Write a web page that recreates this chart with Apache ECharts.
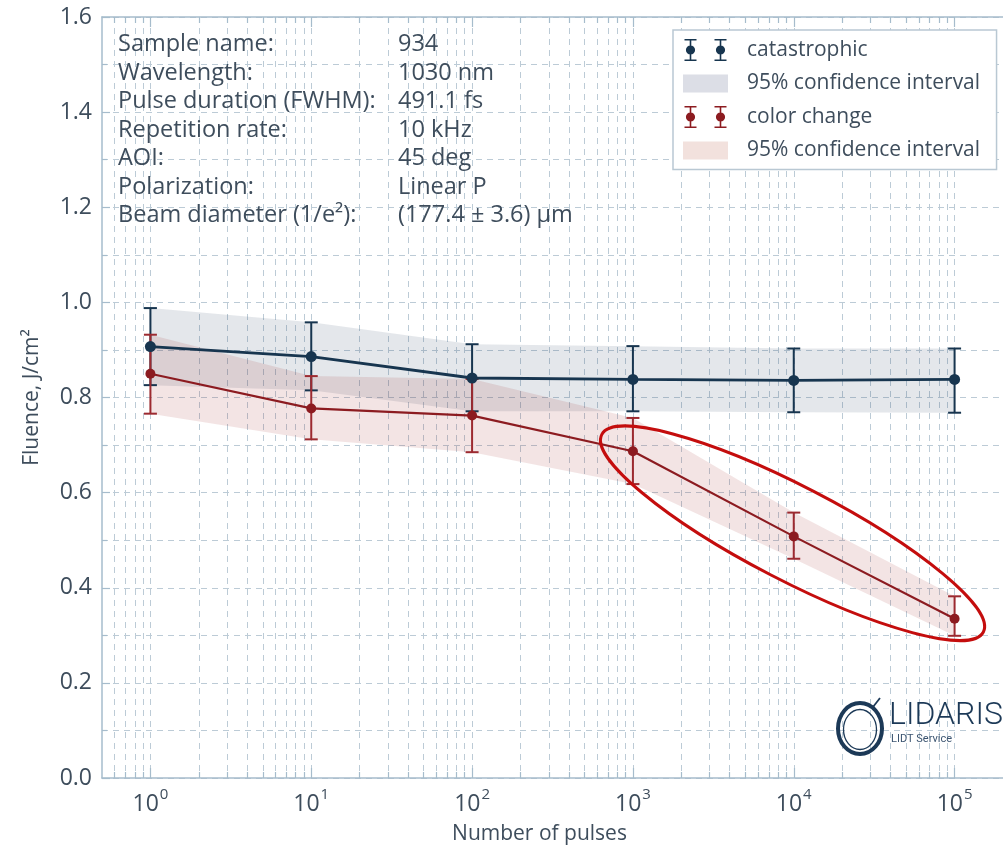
<!DOCTYPE html>
<html><head><meta charset="utf-8">
<script src="https://cdn.jsdelivr.net/npm/echarts@6/dist/echarts.min.js"></script>
<style>html,body{margin:0;padding:0;background:#fff}#c{width:1003px;height:852px}</style>
</head><body><div id="c"></div>
<script>
// ---- data ----
const pulses   = [1, 10, 100, 1000, 10000, 100000];
const catMean  = [0.907, 0.886, 0.841, 0.838, 0.836, 0.838];
const catLow   = [0.826, 0.815, 0.771, 0.771, 0.769, 0.768];
const catHigh  = [0.988, 0.958, 0.912, 0.908, 0.903, 0.903];
const colMean  = [0.850, 0.777, 0.762, 0.687, 0.508, 0.335];
const colLow   = [0.766, 0.712, 0.685, 0.618, 0.461, 0.299];
const colHigh  = [0.932, 0.845, 0.839, 0.757, 0.558, 0.382];
const majorTicks = [1, 10, 100, 1000, 10000, 100000];
const minorMultipliers = [2, 3, 4, 5, 6, 7, 8, 9];
const yTickLabels = ['0.0','0.2','0.4','0.6','0.8','1.0','1.2','1.4','1.6'];
const infoLabels = ['Sample name:', 'Wavelength:', 'Pulse duration (FWHM):', 'Repetition rate:', 'AOI:', 'Polarization:', 'Beam diameter (1/e²):'];
const infoValues = ['934', '1030 nm', '491.1 fs', '10 kHz', '45 deg', 'Linear P', '(177.4 ± 3.6) µm'];
const seriesNames = ['catastrophic', '95% confidence interval', 'color change', '95% confidence interval '];
// highlighted region (major-axis ends in data coordinates)
const highlightFrom = [640, 0.722];
const highlightTo = [151000, 0.307];

// ---- styles ----
const FONT = 'Open Sans';
const axisColor = '#a6bccc';
const gridColor = '#bccbd6';
const textColor = '#3e4d5c';
const blue = '#17354f';
const red = '#8c1b20';
const redBar = '#9c2a30';

const minorTicks = [0.6, 0.7, 0.8, 0.9];
majorTicks.forEach(d => minorMultipliers.forEach(m => { if (d * m < 200000) minorTicks.push(d * m); }));

const chart = echarts.init(document.getElementById('c'), null, {renderer: 'canvas'});

const xBase = {type: 'log', logBase: 10, min: 0.5, max: 200000, gridIndex: 0};
const dashed = {color: gridColor, type: [6, 5], width: 1};

function bandSeries(name, low, high, fill) {
  return {
    type: 'custom', name: name, xAxisIndex: 0, yAxisIndex: 0, z: 1,
    data: pulses.map((x, i) => [x, low[i], high[i]]),
    itemStyle: {color: fill},
    renderItem: function (params, api) {
      if (params.dataIndex !== 0) return null;
      const pts = [];
      for (let i = 0; i < pulses.length; i++) pts.push(api.coord([pulses[i], high[i]]));
      for (let i = pulses.length - 1; i >= 0; i--) pts.push(api.coord([pulses[i], low[i]]));
      return {type: 'polygon', shape: {points: pts}, style: {fill: fill, stroke: null}};
    }
  };
}
function errorSeries(name, low, high, color) {
  return {
    type: 'custom', name: name, xAxisIndex: 0, yAxisIndex: 0, z: 3,
    data: pulses.map((x, i) => [x, low[i], high[i]]),
    itemStyle: {color: color},
    renderItem: function (params, api) {
      const x = api.value(0);
      const a = api.coord([x, api.value(1)]);
      const b = api.coord([x, api.value(2)]);
      const hw = 6.5;
      const st = {stroke: color, lineWidth: 2};
      return {type: 'group', children: [
        {type: 'line', shape: {x1: a[0], y1: a[1], x2: b[0], y2: b[1]}, style: st},
        {type: 'line', shape: {x1: a[0] - hw, y1: a[1], x2: a[0] + hw, y2: a[1]}, style: st},
        {type: 'line', shape: {x1: b[0] - hw, y1: b[1], x2: b[0] + hw, y2: b[1]}, style: st}
      ]};
    }
  };
}
function lineSeries(name, mean, color, width, size) {
  return {
    type: 'line', name: name, xAxisIndex: 0, yAxisIndex: 0, z: 4,
    data: pulses.map((x, i) => [x, mean[i]]),
    symbol: 'circle', symbolSize: size, showSymbol: true,
    itemStyle: {color: color}, lineStyle: {color: color, width: width}
  };
}

function glyph(cx) {
  return 'M' + (cx - 6) + ' 0h12v1.6h-12z' +
         'M' + (cx - 0.8) + ' 0h1.6v22h-1.6z' +
         'M' + (cx - 6) + ' 20.4h12v1.6h-12z' +
         'M' + (cx - 4.6) + ' 11a4.6 4.6 0 1 1 9.2 0a4.6 4.6 0 1 1 -9.2 0z';
}
const errIcon = 'path://' + glyph(7) + glyph(37);
const patchIcon = 'path://M0 0h45v18h-45z';

const option = {
  animation: false,
  backgroundColor: '#fff',
  textStyle: {fontFamily: FONT},
  grid: {left: 102, top: 17, width: 903, height: 761, containLabel: false},
  legend: {
    orient: 'vertical', left: 673, top: 30,
    padding: [9, 11, 8, 10], itemGap: 11.5, itemWidth: 45, itemHeight: 22,
    borderColor: '#b9c8d3', borderWidth: 1.5, backgroundColor: '#fff', borderRadius: 0,
    selectedMode: false,
    textStyle: {fontFamily: FONT, fontSize: 21, lineHeight: 22, color: textColor, padding: [0, 0, 0, 14]},
    data: [
      {name: seriesNames[0], icon: errIcon, itemStyle: {color: blue}},
      {name: seriesNames[1], icon: patchIcon, itemStyle: {color: '#dcdee6'}},
      {name: seriesNames[2], icon: errIcon, itemStyle: {color: red}},
      {name: seriesNames[3], icon: patchIcon, itemStyle: {color: '#f2e1dd'}}
    ]
  },
  xAxis: [
    Object.assign({}, xBase, {
      position: 'bottom',
      axisLine: {show: true, onZero: false, lineStyle: {color: axisColor, width: 1.5}},
      axisTick: {show: true, inside: true, length: 10, customValues: majorTicks, lineStyle: {color: axisColor, width: 1.2}},
      axisLabel: {
        customValues: majorTicks, margin: 8, color: textColor,
        formatter: v => '{b|10}{s|' + Math.round(Math.log10(v)) + '}',
        rich: {
          b: {fontFamily: FONT, fontSize: 23, color: textColor, verticalAlign: 'bottom', lineHeight: 30},
          s: {fontFamily: FONT, fontSize: 15, color: textColor, verticalAlign: 'bottom', lineHeight: 30, padding: [0, 0, 14, 1]}
        }
      },
      splitLine: {show: true, lineStyle: dashed},
      name: 'Number of pulses', nameLocation: 'middle', nameGap: 46,
      nameTextStyle: {fontFamily: FONT, fontSize: 21, color: textColor, padding: [0, 26, 0, 0]}
    }),
    Object.assign({}, xBase, {
      position: 'bottom',
      axisLine: {show: false, onZero: false},
      axisTick: {show: true, inside: true, length: 6, customValues: minorTicks, lineStyle: {color: axisColor, width: 1.2}},
      axisLabel: {show: false},
      splitLine: {show: true, lineStyle: dashed}
    }),
    Object.assign({}, xBase, {
      position: 'top',
      axisLine: {show: true, onZero: false, lineStyle: {color: axisColor, width: 1.5}},
      axisTick: {show: true, inside: true, length: 10, customValues: majorTicks, lineStyle: {color: axisColor, width: 1.2}},
      axisLabel: {show: false},
      splitLine: {show: false}
    }),
    Object.assign({}, xBase, {
      position: 'top',
      axisLine: {show: false, onZero: false},
      axisTick: {show: true, inside: true, length: 6, customValues: minorTicks, lineStyle: {color: axisColor, width: 1.2}},
      axisLabel: {show: false},
      splitLine: {show: false}
    })
  ],
  yAxis: [{
    type: 'value', min: 0, max: 1.6, interval: 0.2, gridIndex: 0,
    axisLine: {show: true, lineStyle: {color: axisColor, width: 1.5}},
    axisTick: {show: true, inside: true, length: 8, lineStyle: {color: axisColor, width: 1.2}},
    minorTick: {show: true, splitNumber: 2, length: 5, lineStyle: {color: axisColor, width: 1.2}},
    splitLine: {show: true, lineStyle: dashed},
    minorSplitLine: {show: true, lineStyle: dashed},
    axisLabel: {
      margin: 10, fontFamily: FONT, fontSize: 23, color: textColor,
      formatter: v => yTickLabels[Math.round(v / 0.2)]
    },
    name: 'Fluence, J/cm²', nameLocation: 'middle', nameGap: 59,
    nameTextStyle: {fontFamily: FONT, fontSize: 21, color: textColor}
  }],
  series: [
    bandSeries(seriesNames[1], catLow, catHigh, 'rgba(30,60,90,0.12)'),
    bandSeries(seriesNames[3], colLow, colHigh, 'rgba(160,30,30,0.12)'),
    errorSeries(seriesNames[0], catLow, catHigh, blue),
    errorSeries(seriesNames[2], colLow, colHigh, redBar),
    lineSeries(seriesNames[0], catMean, blue, 2.8, 11),
    lineSeries(seriesNames[2], colMean, red, 2.2, 10)
  ]
};
chart.setOption(option);

// ---- annotations: info block, highlight ellipse, logo ----
const graphics = [];
infoLabels.forEach((t, i) => {
  graphics.push({type: 'text', x: 118, y: 44.5 + i * 28.5, z: 10,
    style: {text: t, fontFamily: FONT, fontSize: 23.5, fill: textColor, verticalAlign: 'middle'}});
  graphics.push({type: 'text', x: 398, y: 44.5 + i * 28.5, z: 10,
    style: {text: infoValues[i], fontFamily: FONT, fontSize: 23.5, fill: textColor, verticalAlign: 'middle'}});
});
const f = {xAxisIndex: 0, yAxisIndex: 0};
const p1 = chart.convertToPixel(f, highlightFrom);
const p2 = chart.convertToPixel(f, highlightTo);
const cx = (p1[0] + p2[0]) / 2, cy = (p1[1] + p2[1]) / 2;
const semiMajor = Math.hypot(p2[0] - p1[0], p2[1] - p1[1]) / 2;
graphics.push({
  type: 'ellipse', x: cx, y: cy, rotation: -Math.atan2(p2[1] - p1[1], p2[0] - p1[0]), z: 20,
  shape: {cx: 0, cy: 0, rx: semiMajor, ry: 47},
  style: {fill: null, stroke: '#c40d0d', lineWidth: 3}
});
// logo
graphics.push({type: 'ellipse', shape: {cx: 860, cy: 728.5, rx: 22, ry: 25.5}, z: 10,
  style: {fill: null, stroke: '#1c3957', lineWidth: 4}});
graphics.push({type: 'ellipse', shape: {cx: 860, cy: 729.5, rx: 16.5, ry: 20}, z: 10,
  style: {fill: null, stroke: '#1c3957', lineWidth: 1.3}});
graphics.push({type: 'line', shape: {x1: 873, y1: 707, x2: 880, y2: 698}, z: 10,
  style: {stroke: '#1c3957', lineWidth: 1.8}});
graphics.push({type: 'text', left: 889, top: 700, z: 10,
  style: {text: 'LIDARIS', fontFamily: 'Roboto', fontWeight: 300, fontSize: 32, fill: '#1c3957'}});
graphics.push({type: 'text', left: 891, top: 734, z: 10,
  style: {text: 'LIDT Service', fontFamily: 'Roboto', fontSize: 11, fill: '#3b5470'}});
chart.setOption({graphic: graphics});
</script></body></html>
